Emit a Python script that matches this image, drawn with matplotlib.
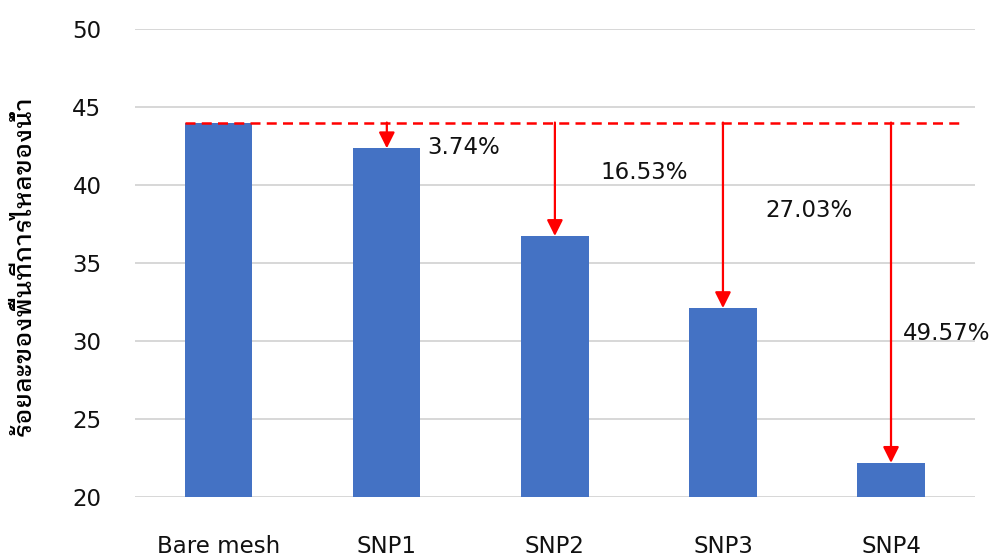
import matplotlib
matplotlib.use('Agg')
import matplotlib.pyplot as plt
import numpy as np

# water flow area (%) for each mesh
categories = ['Bare mesh', 'SNP1', 'SNP2', 'SNP3', 'SNP4']
flow_area = [44.0, 42.35, 36.73, 32.11, 22.19]
reduction = ['3.74%', '16.53%', '27.03%', '49.57%']
label_pos = [(1.24, 42.37), (2.27, 40.83), (3.25, 38.35), (4.07, 30.5)]

ylabel = 'ร้อยละของพื้นที่การไหลของน้ำ'

fig = plt.figure(figsize=(9.98, 5.56), dpi=100)
ax = fig.add_axes([0.135, 0.106, 0.842, 0.842])

x = np.arange(len(categories))
ax.bar(x, flow_area, width=0.4, color='#4472C4', zorder=2)

base = flow_area[0]
ax.plot([-0.2, 4.42], [base, base], color='red', lw=1.8,
        linestyle=(0, (4, 2.5)), zorder=3)

for i in range(1, len(categories)):
    ax.annotate('', xy=(x[i], flow_area[i]), xytext=(x[i], base),
                arrowprops=dict(arrowstyle='-|>', color='red', lw=1.6,
                                mutation_scale=24, shrinkA=0, shrinkB=0),
                zorder=4)

for txt, (tx, ty) in zip(reduction, label_pos):
    ax.text(tx, ty, txt, fontsize=16.5, va='center', ha='left', color='#111111')

ax.set_xlim(-0.5, 4.5)
ax.set_ylim(20, 50)
ax.set_yticks(np.arange(20, 51, 5))
ax.set_xticks(x)
ax.set_xticklabels(categories)
ax.tick_params(length=0, labelsize=16.5, colors='#111111')
ax.tick_params(axis='x', pad=27)
ax.tick_params(axis='y', pad=24)
ax.grid(axis='y', color='#d4d4d4', lw=1.3, zorder=0)
ax.set_axisbelow(True)
for s in ax.spines.values():
    s.set_visible(False)

fig.text(0.024, 0.523, ylabel, rotation=90, va='center', ha='center',
         fontsize=18, weight='medium',
         family=['IBM Plex Sans Thai Looped', 'Sarabun', 'DejaVu Sans'])

fig.savefig('out.png', dpi=100)
